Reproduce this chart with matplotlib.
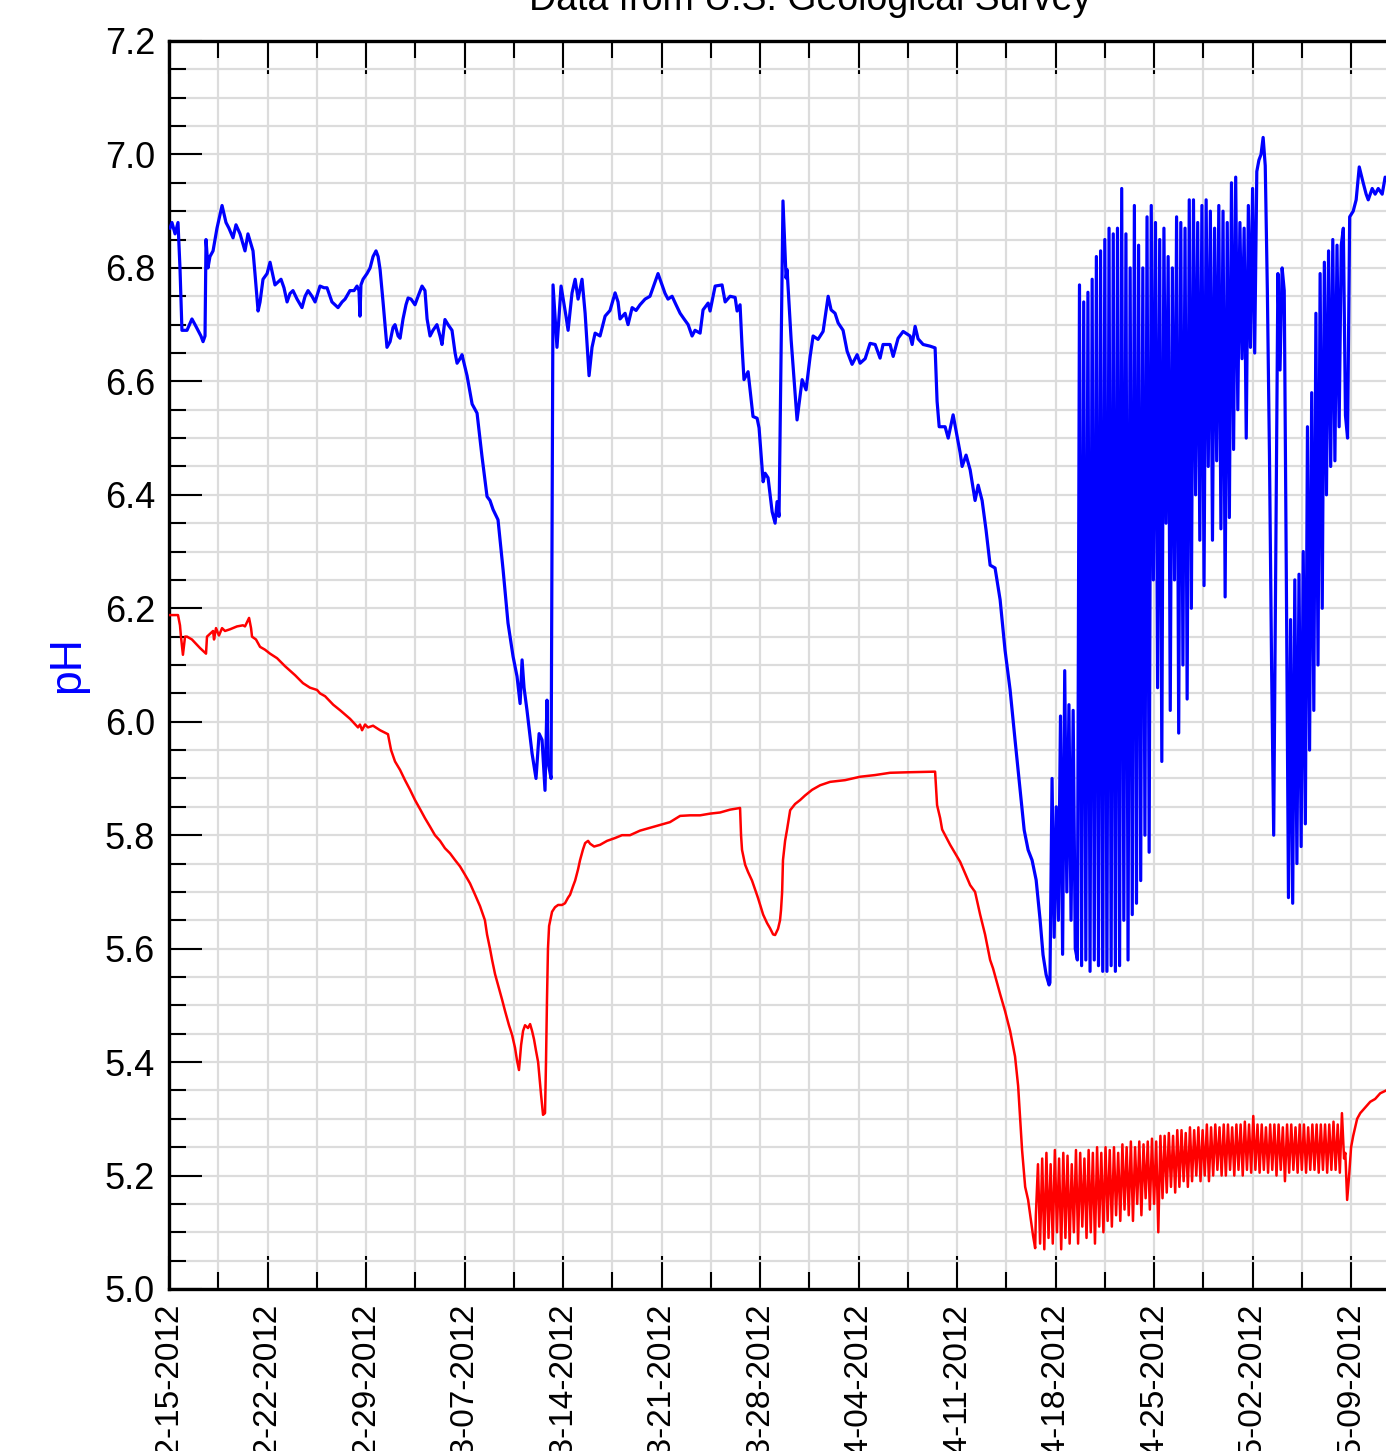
import numpy as np
import pandas as pd
import matplotlib
matplotlib.use("Agg")
import matplotlib.pyplot as plt
import matplotlib.dates as mdates
from matplotlib.ticker import MultipleLocator, FormatStrFormatter, FixedLocator

plt.rcParams['font.family'] = ['Liberation Sans', 'DejaVu Sans']

start = pd.Timestamp('2012-02-15')

# blue trace before the noisy part: (days after 02-15, pH)
blue_early = [
    (0.07, 6.87), (0.21, 6.88), (0.43, 6.86), (0.64, 6.88), (0.78, 6.80), (0.92, 6.69),
    (1.28, 6.69), (1.63, 6.71), (1.85, 6.70), (2.06, 6.69), (2.27, 6.68), (2.42, 6.67),
    (2.56, 6.68), (2.63, 6.85), (2.77, 6.80), (2.91, 6.82), (3.13, 6.83), (3.41, 6.87),
    (3.77, 6.91), (4.05, 6.88), (4.26, 6.87), (4.55, 6.853), (4.76, 6.876), (5.05, 6.86),
    (5.40, 6.83), (5.61, 6.86), (5.97, 6.83), (6.11, 6.79), (6.33, 6.724), (6.47, 6.74),
    (6.68, 6.78), (6.97, 6.79), (7.18, 6.81), (7.53, 6.77), (7.75, 6.775), (7.96, 6.78),
    (8.17, 6.765), (8.39, 6.74), (8.60, 6.755), (8.81, 6.76), (9.10, 6.745), (9.45, 6.73),
    (9.67, 6.75), (9.88, 6.76), (10.16, 6.75), (10.38, 6.74), (10.73, 6.768), (11.02, 6.765),
    (11.23, 6.765), (11.44, 6.75), (11.58, 6.74), (11.80, 6.735), (12.01, 6.73), (12.30, 6.74),
    (12.51, 6.745), (12.86, 6.76), (13.15, 6.76), (13.36, 6.768), (13.50, 6.76), (13.57, 6.715),
    (13.64, 6.77), (13.79, 6.78), (14.07, 6.79), (14.29, 6.80), (14.50, 6.82), (14.71, 6.83),
    (14.86, 6.82), (15.00, 6.797), (15.21, 6.74), (15.49, 6.66), (15.71, 6.67), (15.92, 6.695),
    (16.06, 6.70), (16.28, 6.68), (16.42, 6.676), (16.63, 6.71), (16.84, 6.735), (16.99, 6.747),
    (17.20, 6.745), (17.48, 6.735), (17.70, 6.75), (17.98, 6.768), (18.19, 6.76), (18.34, 6.71),
    (18.55, 6.68), (18.76, 6.69), (19.04, 6.70), (19.26, 6.68), (19.40, 6.665), (19.61, 6.709),
    (19.83, 6.70), (20.11, 6.69), (20.33, 6.65), (20.47, 6.632), (20.68, 6.64), (20.82, 6.647),
    (21.18, 6.61), (21.54, 6.56), (21.89, 6.544), (22.24, 6.468), (22.60, 6.397), (22.81, 6.39),
    (23.03, 6.374), (23.38, 6.356), (23.74, 6.268), (24.09, 6.174), (24.45, 6.115), (24.73, 6.08),
    (24.95, 6.032), (25.09, 6.109), (25.23, 6.06), (25.44, 6.02), (25.80, 5.944), (26.08, 5.90),
    (26.30, 5.979), (26.51, 5.968), (26.72, 5.879), (26.86, 6.038), (26.93, 5.93), (27.15, 5.90),
    (27.29, 6.77), (27.57, 6.66), (27.86, 6.768), (28.21, 6.715), (28.36, 6.69), (28.64, 6.756),
    (28.86, 6.78), (29.07, 6.745), (29.35, 6.78), (29.57, 6.72), (29.85, 6.61), (30.06, 6.66),
    (30.28, 6.685), (30.63, 6.68), (30.99, 6.715), (31.34, 6.725), (31.70, 6.756), (31.91, 6.74),
    (32.05, 6.71), (32.41, 6.72), (32.62, 6.70), (32.91, 6.73), (33.19, 6.725), (33.47, 6.735),
    (33.83, 6.745), (34.18, 6.75), (34.54, 6.775), (34.75, 6.79), (35.04, 6.77), (35.25, 6.755),
    (35.46, 6.745), (35.75, 6.75), (36.03, 6.735), (36.32, 6.72), (36.60, 6.71), (36.89, 6.70),
    (37.17, 6.68), (37.38, 6.69), (37.74, 6.685), (37.95, 6.726), (38.31, 6.738), (38.45, 6.724),
    (38.81, 6.768), (39.30, 6.77), (39.52, 6.74), (39.87, 6.75), (40.23, 6.748), (40.37, 6.724),
    (40.58, 6.735), (40.72, 6.662), (40.86, 6.603), (41.15, 6.617), (41.50, 6.538), (41.79, 6.535),
    (41.93, 6.518), (42.22, 6.423), (42.36, 6.438), (42.57, 6.43), (42.86, 6.37), (43.07, 6.35),
    (43.21, 6.388), (43.35, 6.362), (43.63, 6.918), (43.85, 6.782), (43.92, 6.797), (44.21, 6.673),
    (44.63, 6.532), (44.99, 6.603), (45.27, 6.585), (45.56, 6.644), (45.77, 6.68), (46.12, 6.674),
    (46.48, 6.688), (46.84, 6.75), (47.05, 6.726), (47.33, 6.72), (47.55, 6.703), (47.90, 6.69),
    (48.19, 6.653), (48.54, 6.63), (48.90, 6.647), (49.11, 6.632), (49.47, 6.64), (49.82, 6.667),
    (50.18, 6.665), (50.53, 6.641), (50.74, 6.665), (51.24, 6.665), (51.46, 6.644), (51.81, 6.676),
    (52.17, 6.688), (52.66, 6.68), (52.81, 6.665), (53.02, 6.697), (53.23, 6.675), (53.59, 6.665),
    (54.09, 6.662), (54.44, 6.659), (54.58, 6.565), (54.73, 6.52), (55.15, 6.52), (55.37, 6.50),
    (55.72, 6.541), (56.22, 6.474), (56.36, 6.45), (56.64, 6.47), (56.93, 6.444), (57.28, 6.39),
    (57.50, 6.417), (57.78, 6.39), (58.06, 6.338), (58.35, 6.276), (58.70, 6.271), (59.06, 6.215),
    (59.41, 6.126), (59.77, 6.056), (60.12, 5.968), (60.48, 5.880), (60.77, 5.809), (61.05, 5.774),
    (61.33, 5.756), (61.62, 5.721), (61.90, 5.651), (62.11, 5.589), (62.33, 5.554), (62.54, 5.536),
]

# noisy blue part, sampled every 3.6 h from 04-18 14:24
blue_noisy_start = 62.6
blue_noisy_step = 0.15
blue_noisy = [
    5.54, 5.90, 5.62, 5.85, 5.65, 6.01, 5.59, 6.09, 5.70, 6.03, 5.65, 6.02, 5.60, 5.58,
    6.77, 5.57, 6.74, 5.58, 6.757, 5.56, 6.78, 5.58, 6.82, 5.57, 6.83, 5.56, 6.85, 5.56,
    6.87, 5.57, 6.86, 5.56, 6.87, 5.57, 6.94, 5.65, 6.86, 5.58, 6.80, 5.66, 6.91, 5.68,
    6.84, 5.72, 6.80, 5.80, 6.89, 5.77, 6.91, 6.25, 6.88, 6.06, 6.85, 5.93, 6.87, 6.35,
    6.82, 6.02, 6.80, 6.25, 6.89, 5.98, 6.88, 6.10, 6.87, 6.04, 6.92, 6.20, 6.92, 6.40,
    6.88, 6.32, 6.91, 6.24, 6.92, 6.45, 6.90, 6.32, 6.87, 6.46, 6.91, 6.34, 6.90, 6.22,
    6.88, 6.36, 6.95, 6.48, 6.96, 6.55, 6.88, 6.64, 6.87, 6.50, 6.91, 6.66, 6.94, 6.65,
    6.97, 6.99, 7.00, 7.03, 6.98, 6.76, 6.47, 6.10, 5.80, 6.30, 6.79, 6.62, 6.80, 6.76,
    6.25, 5.69, 6.18, 5.68, 6.25, 5.75, 6.26, 5.78, 6.30, 5.82, 6.52, 5.95, 6.58, 6.02,
    6.72, 6.10, 6.79, 6.20, 6.81, 6.40, 6.83, 6.45, 6.85, 6.46, 6.84, 6.52, 6.84, 6.87,
    6.54, 6.50, 6.89,
]

blue_late = [
    (84.15, 6.90), (84.36, 6.92), (84.58, 6.978), (84.86, 6.95), (85.07, 6.93), (85.22, 6.92),
    (85.50, 6.94), (85.71, 6.93), (85.93, 6.94), (86.21, 6.93), (86.42, 6.96), (86.70, 6.95),
]

# red trace
red_early = [
    (0.07, 6.188), (0.64, 6.188), (0.78, 6.17), (0.85, 6.15), (0.99, 6.118), (1.14, 6.15),
    (1.28, 6.15), (1.63, 6.145), (2.20, 6.13), (2.63, 6.12), (2.70, 6.15), (2.91, 6.155),
    (3.13, 6.16), (3.20, 6.145), (3.34, 6.165), (3.55, 6.152), (3.77, 6.165), (3.98, 6.16),
    (4.34, 6.163), (4.83, 6.168), (5.26, 6.17), (5.40, 6.168), (5.69, 6.183), (5.83, 6.165),
    (5.90, 6.15), (6.18, 6.145), (6.47, 6.132), (6.82, 6.127), (7.18, 6.12), (7.68, 6.112),
    (8.24, 6.098), (8.96, 6.082), (9.52, 6.068), (10.02, 6.06), (10.52, 6.056), (10.73, 6.05),
    (11.09, 6.045), (11.67, 6.03), (12.17, 6.02), (12.87, 6.005), (13.43, 5.99), (13.57, 5.995),
    (13.72, 5.985), (13.93, 5.995), (14.14, 5.99), (14.50, 5.993), (15.00, 5.985), (15.56, 5.978),
    (15.78, 5.95), (16.06, 5.93), (16.42, 5.915), (16.77, 5.897), (17.13, 5.88), (17.48, 5.862),
    (17.84, 5.846), (18.19, 5.83), (18.55, 5.815), (18.90, 5.80), (19.26, 5.79), (19.61, 5.777),
    (19.97, 5.768), (20.33, 5.756), (20.68, 5.745), (21.04, 5.73), (21.39, 5.715), (21.75, 5.695),
    (22.10, 5.675), (22.31, 5.66), (22.45, 5.65), (22.60, 5.625), (22.81, 5.60), (22.96, 5.58),
    (23.17, 5.555), (23.38, 5.536), (23.67, 5.51), (23.88, 5.49), (24.16, 5.465), (24.38, 5.448),
    (24.59, 5.425), (24.73, 5.403), (24.87, 5.386), (25.02, 5.43), (25.16, 5.455), (25.30, 5.465),
    (25.51, 5.46), (25.66, 5.467), (25.80, 5.455), (25.94, 5.44), (26.08, 5.42), (26.23, 5.40),
    (26.37, 5.36), (26.44, 5.342), (26.58, 5.307), (26.72, 5.31), (26.79, 5.40), (26.86, 5.51),
    (26.93, 5.60), (27.01, 5.64), (27.22, 5.665), (27.43, 5.673), (27.65, 5.677), (27.93, 5.677),
    (28.14, 5.68), (28.36, 5.69), (28.50, 5.695), (28.71, 5.71), (28.86, 5.72), (29.07, 5.74),
    (29.21, 5.756), (29.42, 5.775), (29.57, 5.786), (29.78, 5.79), (29.92, 5.785), (30.21, 5.78),
    (30.63, 5.783), (31.13, 5.79), (31.70, 5.795), (32.19, 5.80), (32.76, 5.80), (33.47, 5.808),
    (34.18, 5.813), (34.89, 5.818), (35.60, 5.823), (36.32, 5.834), (37.03, 5.835), (37.74, 5.835),
    (38.45, 5.838), (39.16, 5.84), (39.87, 5.845), (40.58, 5.848), (40.65, 5.80), (40.72, 5.774),
    (40.94, 5.748), (41.15, 5.735), (41.43, 5.72), (41.86, 5.689), (42.22, 5.66), (42.50, 5.645),
    (42.71, 5.636), (42.93, 5.625), (43.07, 5.624), (43.28, 5.635), (43.42, 5.65), (43.49, 5.668),
    (43.57, 5.70), (43.63, 5.756), (43.78, 5.79), (43.92, 5.81), (44.14, 5.844), (44.49, 5.855),
    (44.85, 5.862), (45.20, 5.87), (45.70, 5.88), (46.27, 5.888), (46.98, 5.894), (48.04, 5.897),
    (49.11, 5.903), (50.18, 5.906), (51.24, 5.91), (52.66, 5.911), (54.44, 5.912), (54.58, 5.853),
    (54.80, 5.83), (54.94, 5.81), (55.51, 5.783), (56.22, 5.753), (56.93, 5.712), (57.28, 5.70),
    (57.64, 5.66), (57.99, 5.625), (58.35, 5.58), (58.56, 5.565), (59.06, 5.52), (59.41, 5.49),
    (59.77, 5.455), (60.12, 5.41), (60.34, 5.358), (60.48, 5.30), (60.62, 5.245), (60.77, 5.20),
    (60.84, 5.18), (61.05, 5.157), (61.26, 5.12), (61.40, 5.094), (61.55, 5.072),
]

red_noisy_start = 61.6
red_noisy_step = 0.15
red_noisy = [
    5.13, 5.22, 5.08, 5.23, 5.07, 5.24, 5.09, 5.22, 5.08, 5.245, 5.10, 5.23, 5.07, 5.24,
    5.09, 5.235, 5.08, 5.22, 5.10, 5.245, 5.08, 5.24, 5.11, 5.23, 5.09, 5.245, 5.10, 5.24,
    5.08, 5.25, 5.11,
    5.24, 5.10, 5.25, 5.12, 5.245, 5.11, 5.25, 5.13, 5.24, 5.12, 5.255, 5.14, 5.25, 5.13,
    5.26, 5.12, 5.25, 5.15, 5.26, 5.13, 5.255, 5.16, 5.26, 5.14, 5.265, 5.15, 5.26, 5.10,
    5.27, 5.16,
    5.27, 5.17, 5.275, 5.18, 5.27, 5.17, 5.28, 5.18, 5.28, 5.19, 5.275, 5.18, 5.285, 5.19,
    5.28, 5.20, 5.285, 5.19, 5.28, 5.20, 5.29, 5.19, 5.285, 5.20, 5.29, 5.21, 5.285, 5.20,
    5.29, 5.20,
    5.29, 5.21, 5.285, 5.20, 5.29, 5.21, 5.29, 5.20, 5.295, 5.21, 5.29, 5.205, 5.305, 5.21,
    5.29, 5.205, 5.29, 5.21, 5.285, 5.205, 5.29, 5.21, 5.29, 5.20, 5.29, 5.21, 5.285, 5.19,
    5.29, 5.205,
    5.29, 5.21, 5.285, 5.205, 5.29, 5.21, 5.29, 5.205, 5.285, 5.21, 5.29, 5.21, 5.29, 5.205,
    5.29, 5.21, 5.29, 5.205, 5.29, 5.21, 5.295, 5.21, 5.29, 5.205, 5.31, 5.23,
]

red_late = [
    (83.59, 5.24), (83.72, 5.157), (83.86, 5.20), (84.00, 5.25), (84.15, 5.27), (84.43, 5.30),
    (84.65, 5.31), (85.00, 5.32), (85.36, 5.33), (85.71, 5.335), (86.07, 5.345), (86.49, 5.35),
    (86.80, 5.355),
]


def build(early, noisy_start, noisy_step, noisy, late):
    d = [p[0] for p in early]
    v = [p[1] for p in early]
    d += [noisy_start + noisy_step * i for i in range(len(noisy))]
    v += list(noisy)
    d += [p[0] for p in late]
    v += [p[1] for p in late]
    t = start + pd.to_timedelta(np.array(d), unit='D')
    return t, np.array(v)


blue_t, blue_v = build(blue_early, blue_noisy_start, blue_noisy_step, blue_noisy, blue_late)
red_t, red_v = build(red_early, red_noisy_start, red_noisy_step, red_noisy, red_late)

W, H = 1386, 1451
fig = plt.figure(figsize=(W / 100, H / 100), dpi=100)
# axes runs past the right edge of the picture, like the cropped original
ax = fig.add_axes([169 / W, 1 - 1289 / H, (1451 - 169) / W, (1289 - 41) / H])

ax.plot(blue_t, blue_v, color='blue', lw=2.3, zorder=3)
ax.plot(red_t, red_v, color='red', lw=1.8, zorder=3)

ax.set_ylim(5.0, 7.2)
ax.set_xlim(start, start + pd.Timedelta(days=91.1))

ax.yaxis.set_major_locator(MultipleLocator(0.2))
ax.yaxis.set_minor_locator(MultipleLocator(0.05))
ax.yaxis.set_major_formatter(FormatStrFormatter('%.1f'))

major_dates = pd.date_range(start, periods=14, freq='7D')
minor_dates = pd.date_range(start, periods=28, freq='84h')
ax.xaxis.set_major_locator(FixedLocator(mdates.date2num(major_dates)))
ax.xaxis.set_minor_locator(FixedLocator(mdates.date2num(minor_dates)))
ax.xaxis.set_major_formatter(mdates.DateFormatter('%m-%d-%Y'))

ax.grid(which='both', color='#dcdcdc', lw=1.6)
ax.set_axisbelow(True)

ax.tick_params(which='both', direction='in', top=True, right=True, width=1.5,
               color='black')
ax.tick_params(which='major', length=24)
ax.tick_params(which='minor', length=12)
ax.tick_params(axis='y', pad=10, labelsize=26)
ax.tick_params(axis='x', pad=10, labelsize=24)
plt.setp(ax.get_xticklabels(), rotation=90, va='top', ha='center')

for s in ax.spines.values():
    s.set_linewidth(2.4)

ax.set_ylabel('pH', color='blue', fontsize=32, labelpad=12)
ax.set_title('Data from U.S. Geological Survey', fontsize=27, pad=22)

fig.savefig('out.png', dpi=100)
